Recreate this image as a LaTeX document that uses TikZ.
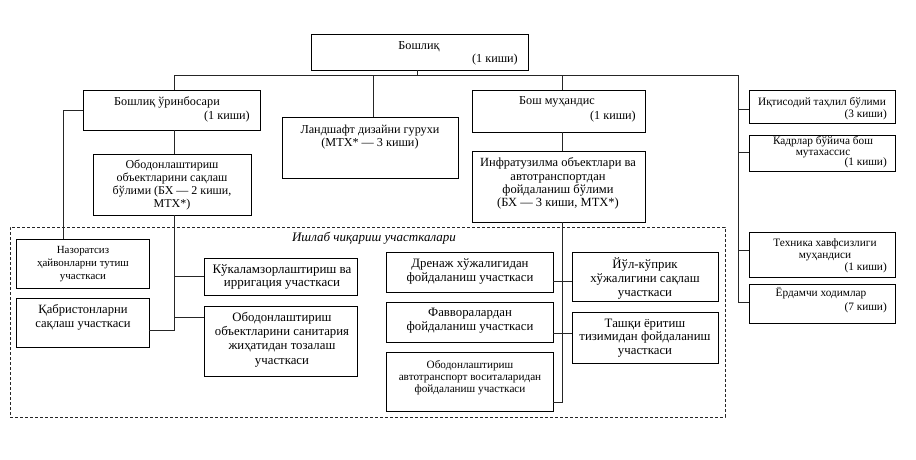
\documentclass[tikz,border=0pt]{standalone}
\usepackage{fontspec}
\setmainfont{Liberation Serif}
\usetikzlibrary{fit}
\newcommand\fsA{\fontsize{12.2}{13}\selectfont}
\newcommand\fsI{\fontsize{12.5}{13.3}\selectfont}
\newcommand\fsO{\fontsize{12}{13.3}\selectfont}
\newcommand\fsR{\fontsize{11.3}{12}\selectfont}
\newcommand\fsK{\fontsize{11.3}{10.8}\selectfont}
\newcommand\fsN{\fontsize{10.9}{13}\selectfont}
\newcommand\fsQ{\fontsize{12.6}{14}\selectfont}
\newcommand\fsU{\fontsize{13}{13}\selectfont}
\newcommand\fsS{\fontsize{12.8}{14.3}\selectfont}
\newcommand\fsD{\fontsize{12.8}{13.5}\selectfont}
\newcommand\fsV{\fontsize{11.2}{11.7}\selectfont}
\newcommand\fsY{\fontsize{12.8}{13.8}\selectfont}
\begin{document}
\begin{tikzpicture}[x=1pt,y=-1pt,
  box/.style={draw=black, line width=0.8pt, inner sep=0pt},
  ln/.style={draw=black!85, line width=0.8pt},
  tx/.style={align=center, inner sep=0pt, text=black},
  dsh/.style={draw=black!85, line width=0.7pt, dash pattern=on 3pt off 2pt}]
\useasboundingbox (0,0) rectangle (916,459);
% boxes
\node[box, fit={(311,34) (528,70)}] (top) {};
\node[box, fit={(83,90) (260,130)}] (dep) {};
\node[box, fit={(93,154) (251,215)}] (obod) {};
\node[box, fit={(282,117) (458,178)}] (land) {};
\node[box, fit={(472,90) (645,132)}] (bosh) {};
\node[box, fit={(472,151) (645,222)}] (infra) {};
\node[box, fit={(749,90) (895,123)}] (iqt) {};
\node[box, fit={(749,135) (895,171)}] (kadr) {};
\node[box, fit={(749,232) (895,277)}] (tex) {};
\node[box, fit={(749,284) (895,323)}] (yord) {};
\node[dsh, inner sep=0pt, fit={(10,227) (725,417)}] (ish) {};
\node[box, fit={(16,239) (149,288)}] (naz) {};
\node[box, fit={(16,298) (149,347)}] (qab) {};
\node[box, fit={(204,258) (357,295)}] (kuk) {};
\node[box, fit={(204,306) (357,376)}] (san) {};
\node[box, fit={(386,252) (553,292)}] (dren) {};
\node[box, fit={(386,302) (553,342)}] (fav) {};
\node[box, fit={(386,352) (553,411)}] (avt) {};
\node[box, fit={(572,252) (718,301)}] (yul) {};
\node[box, fit={(572,312) (718,363)}] (tash) {};
% junctions
\coordinate (busL) at (174,75);
\coordinate (busR) at (738,75);
\coordinate (jt) at (417,75);
\coordinate (jl) at (373,75);
\coordinate (j1) at (562,75);
\coordinate (c1) at (63,110);
\coordinate (c2) at (174,330);
\coordinate (c3) at (174,317);
\coordinate (c4) at (562,402);
\coordinate (c5) at (562,281);
\coordinate (c6) at (562,333);
\coordinate (r1) at (738,109);
\coordinate (r2) at (738,152);
\coordinate (r3) at (738,250);
\coordinate (r4) at (738,302);
% connectors
\draw[ln] (jt |- top.south) -- (jt);
\draw[ln] (busL) -- (busR);
\draw[ln] (busL) -- (busL |- dep.north);
\draw[ln] (jl) -- (jl |- land.north);
\draw[ln] (j1) -- (j1 |- bosh.north);
\draw[ln] (busR) -- (r4);
\draw[ln] (r1) -- (r1 -| iqt.west);
\draw[ln] (r2) -- (r2 -| kadr.west);
\draw[ln] (r3) -- (r3 -| tex.west);
\draw[ln] (r4) -- (r4 -| yord.west);
\draw[ln] (c1 -| dep.west) -- (c1) -- (naz.north -| c1);
\draw[ln] (busL |- dep.south) -- (busL |- obod.north);
\draw[ln] (busL |- obod.south) -- (c2) -- (c2 -| qab.east);
\draw[ln] (busL |- kuk.west) -- (kuk.west);
\draw[ln] (c3) -- (c3 -| san.west);
\draw[ln] (j1 |- bosh.south) -- (j1 |- infra.north);
\draw[ln] (j1 |- infra.south) -- (c4) -- (c4 -| avt.east);
\draw[ln] (c5 -| dren.east) -- (c5 -| yul.west);
\draw[ln] (c6 -| fav.east) -- (c6 -| tash.west);
% texts
\node[tx, font=\fsA] (ttop1) at (419,47) {Бошлиқ};
\node[tx, font=\fsA, anchor=east] (ttop2) at (518,60) {(1 киши)};
\node[tx, font=\fsA] (tdep1) at (167,102) {Бошлиқ ўринбосари};
\node[tx, font=\fsA, anchor=east] (tdep2) at (250,117) {(1 киши)};
\node[tx, font=\fsO] (tobod) at (172,185) {Ободонлаштириш\\объектларини сақлаш\\бўлими (БХ — 2 киши,\\МТХ*)};
\node[tx, font=\fsA] (tland) at (370,137.5) {Ландшафт дизайни гурухи\\(МТХ* — 3 киши)};
\node[tx, font=\fsA] (tbosh1) at (557,102) {Бош муҳандис};
\node[tx, font=\fsA, anchor=east] (tbosh2) at (636,117) {(1 киши)};
\node[tx, font=\fsI] (tinfra) at (558,183.5) {Инфратузилма объектлари ва\\автотранспортдан\\фойдаланиш бўлими\\(БХ — 3 киши, МТХ*)};
\node[tx, font=\fsR] (tiqt1) at (822,103) {Иқтисодий таҳлил бўлими};
\node[tx, font=\fsR, anchor=east] (tiqt2) at (887,115) {(3 киши)};
\node[tx, font=\fsK] (tkadr1) at (823,147) {Кадрлар бўйича бош\\мутахассис};
\node[tx, font=\fsR, anchor=east] (tkadr2) at (887,163) {(1 киши)};
\node[tx, font=\fsR] (ttex1) at (825,250) {Техника хавфсизлиги\\муҳандиси};
\node[tx, font=\fsR, anchor=east] (ttex2) at (887,268) {(1 киши)};
\node[tx, font=\fsR] (tyord1) at (821,293) {Ёрдамчи ходимлар};
\node[tx, font=\fsR, anchor=east] (tyord2) at (887,308) {(7 киши)};
\node[tx, font=\itshape\fsU] (tish) at (374,238) {Ишлаб чиқариш участкалари};
\node[tx, font=\fsN] (tnaz) at (83,264) {Назоратсиз\\ҳайвонларни тутиш\\участкаси};
\node[tx, font=\fsQ] (tqab) at (83,317) {Қабристонларни\\сақлаш участкаси};
\node[tx, font=\fsU] (tkuk) at (282,276.5) {Кўкаламзорлаштириш ва\\ирригация участкаси};
\node[tx, font=\fsS] (tsan) at (282,339.5) {Ободонлаштириш\\объектларини санитария\\жиҳатидан тозалаш\\участкаси};
\node[tx, font=\fsD] (tdren) at (470,271.5) {Дренаж хўжалигидан\\фойдаланиш участкаси};
\node[tx, font=\fsD] (tfav) at (470,320.5) {Фавворалардан\\фойдаланиш участкаси};
\node[tx, font=\fsV] (tavt) at (470,377.5) {Ободонлаштириш\\автотранспорт воситаларидан\\фойдаланиш участкаси};
\node[tx, font=\fsY] (tyul) at (645,278.5) {Йўл-кўприк\\хўжалигини сақлаш\\участкаси};
\node[tx, font=\fsY] (ttash) at (645,338) {Ташқи ёритиш\\тизимидан фойдаланиш\\участкаси};
\end{tikzpicture}
\end{document}
